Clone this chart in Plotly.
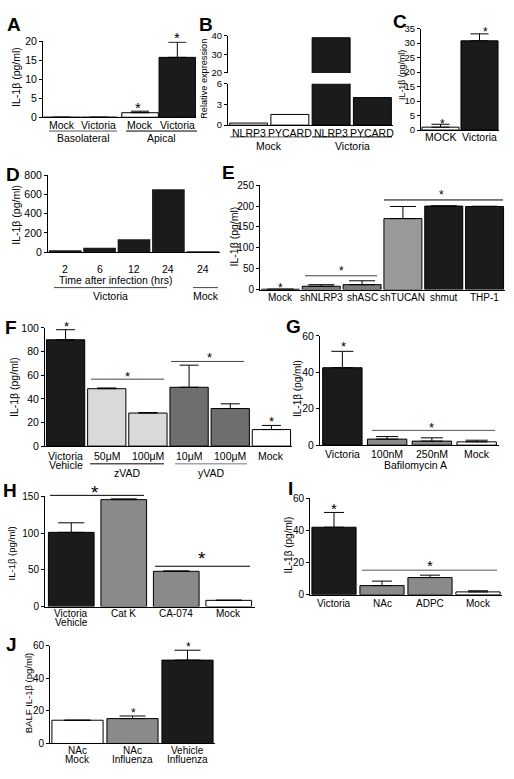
import plotly.graph_objects as go

W, H = 514, 779
FONT = "Liberation Sans, Arial, Helvetica, sans-serif"
BLACK = "#1b1b1b"
WHITE = "#ffffff"
GRAY = "#8a8a8a"
MGRAY = "#7c7c7c"
LGRAY = "#d9d9d9"
DGRAY = "#6e6e6e"
TFS = 10.5

# ---------------- data ----------------
A_labels = ["Mock", "Victoria", "Mock", "Victoria"]
A_pos = [0, 1, 2.1, 3.1]
A_values = [0, 0, 1.2, 15.8]
A_errors = [0, 0, 0.4, 4.0]
A_colors = [WHITE, BLACK, WHITE, BLACK]

B_labels = ["NLRP3", "PYCARD", "NLRP3", "PYCARD"]
B_values = [0.3, 1.55, 38.8, 4.0]
B_colors = [WHITE, WHITE, BLACK, BLACK]

C_labels = ["MOCK", "Victoria"]
C_values = [1.0, 30.8]
C_errors = [1.0, 2.4]
C_colors = [WHITE, BLACK]

D_labels = ["2", "6", "12", "24", "24"]
D_values = [20, 45, 135, 655, 3]
D_colors = [BLACK] * 5

E_labels = ["Mock", "shNLRP3", "shASC", "shTUCAN", "shmut", "THP-1"]
E_values = [0.8, 8, 11.7, 170, 200, 199]
E_errors = [0, 3.7, 9.3, 29, 0.3, 0.5]
E_colors = [WHITE, MGRAY, MGRAY, "#999999", BLACK, BLACK]

F_labels = ["Victoria<br>Vehicle", "50μM", "100μM", "10μM", "100μM", "Mock"]
F_values = [90, 48.6, 28, 49.8, 31.8, 14]
F_errors = [8.5, 0.6, 0.4, 18.7, 4.0, 3.5]
F_colors = [BLACK, LGRAY, LGRAY, DGRAY, DGRAY, WHITE]

G_labels = ["Victoria", "100nM", "250nM", "Mock"]
G_values = [42.5, 3.3, 2.2, 1.8]
G_errors = [9.0, 1.4, 1.8, 0.9]
G_colors = [BLACK, GRAY, GRAY, WHITE]

H_labels = ["Victoria<br>Vehicle", "Cat K", "CA-074", "Mock"]
H_values = [101, 145.5, 48, 8.5]
H_errors = [13, 1, 0.5, 0.3]
H_colors = [BLACK, GRAY, GRAY, WHITE]

I_labels = ["Victoria", "NAc", "ADPC", "Mock"]
I_values = [42, 5.7, 10.7, 1.8]
I_errors = [9.2, 2.8, 1.5, 0.7]
I_colors = [BLACK, GRAY, GRAY, WHITE]

J_labels = ["NAc<br>Mock", "NAc<br>Influenza", "Vehicle<br>Influenza"]
J_values = [14.3, 15.3, 51.3]
J_errors = [0, 1.6, 6.1]
J_colors = [WHITE, GRAY, BLACK]


def px(x):
    return x / W


def py(y):
    return 1 - y / H


fig = go.Figure()
layout = dict(
    width=W, height=H, margin=dict(l=0, r=0, t=0, b=0),
    paper_bgcolor="white", plot_bgcolor="white", showlegend=False,
    font=dict(family=FONT, size=TFS, color="black"),
)
annotations = []
shapes = []


def key(prefix, n):
    return prefix + ("" if n == 1 else str(n))


def text(t, x, y, size=TFS, bold=False, angle=0, color="black", xref="paper"):
    annotations.append(dict(
        text=("<b>%s</b>" % t) if bold else t,
        x=px(x) if xref == "paper" else x, y=py(y),
        xref=xref, yref="paper", showarrow=False, textangle=angle,
        xanchor="center", yanchor="middle",
        font=dict(family=FONT, size=size, color=color)))


def add_panel(n, xdom, ydom, xrange, yrange, yticks, pos, labels, values, colors,
              errors=None, width=0.92, cap=9, yn=None, show_x=True, outline=1,
              lab_off=8, lab_size=TFS, lab_gap=9.5, ytick_size=10):
    yn = yn or n
    xk, yk = key("xaxis", n), key("yaxis", yn)
    xa, ya = key("x", n), key("y", yn)
    err = None
    if errors is not None:
        err = dict(type="data", symmetric=False, array=errors,
                   arrayminus=[0] * len(errors), color="black",
                   thickness=1, width=cap)
    fig.add_trace(go.Bar(
        x=pos, y=values, width=width, xaxis=xa, yaxis=ya,
        marker=dict(color=colors, line=dict(color="black", width=outline)),
        error_y=err, hoverinfo="skip"))
    if show_x:
        layout[xk] = dict(
            domain=[px(xdom[0]), px(xdom[1])], range=xrange, anchor=ya,
            showline=True, linecolor="black", linewidth=1, ticks="",
            showgrid=False, zeroline=False, showticklabels=False,
            fixedrange=True)
        for p, lab in zip(pos, labels):
            for k, part in enumerate(lab.split("<br>")):
                text(part, p, ydom[1] + lab_off + k * lab_gap, size=lab_size, xref=xa)
    layout[yk] = dict(
        domain=[py(ydom[1]), py(ydom[0])], range=yrange, anchor=xa,
        showline=True, linecolor="black", linewidth=1, ticks="outside",
        ticklen=3, tickwidth=1, tickcolor="black", showgrid=False,
        zeroline=False, tickmode="array", tickvals=yticks,
        tickfont=dict(size=ytick_size), fixedrange=True)


def idx(lst):
    return list(range(len(lst)))


# A
add_panel(1, (43, 196), (36, 113), [-0.5, 3.6], [0, 20], [0, 5, 10, 15, 20],
          A_pos, A_labels, A_values, A_colors, A_errors, width=0.98, cap=9,
          lab_off=8, ytick_size=10.5)
# B (broken axis)
add_panel(2, (228, 393), (79, 121), [-0.5, 3.5], [0, 6], [0, 3, 6],
          idx(B_labels), B_labels, B_values, B_colors, None, width=0.92,
          lab_off=7.5, ytick_size=9.5)
add_panel(2, (228, 393), (30, 68), [-0.5, 3.5], [20, 40], [20, 30, 40],
          idx(B_labels), B_labels, B_values, B_colors, None, width=0.92,
          yn=11, show_x=False, ytick_size=9.5)
# C
add_panel(3, (421, 499), (23, 126), [-0.5, 1.5], [0, 35], [0, 5, 10, 15, 20, 25, 30, 35],
          idx(C_labels), C_labels, C_values, C_colors, C_errors, width=0.95, cap=9,
          lab_off=7.5, ytick_size=9.5)
# D
add_panel(4, (48, 220), (172, 250), [-0.5, 4.5], [0, 800], [0, 200, 400, 600, 800],
          idx(D_labels), D_labels, D_values, D_colors, None, width=0.95, outline=0,
          lab_off=17, ytick_size=10.5)
# E
add_panel(5, (260, 505), (182, 288), [-0.5, 5.5], [0, 250], [0, 50, 100, 150, 200, 250],
          idx(E_labels), E_labels, E_values, E_colors, E_errors, width=0.93, cap=13,
          lab_off=8, lab_size=10)
# F
add_panel(6, (45, 292), (327, 447), [-0.5, 5.5], [0, 100], [0, 20, 40, 60, 80, 100],
          idx(F_labels), F_labels, F_values, F_colors, F_errors, width=0.93, cap=9.5,
          lab_off=10, ytick_size=10.5)
# G
add_panel(7, (320, 499), (335, 446), [-0.5, 3.5], [0, 60], [0, 20, 40, 60],
          idx(G_labels), G_labels, G_values, G_colors, G_errors, width=0.88, cap=11,
          lab_off=9, ytick_size=10.5)
# H
add_panel(8, (45, 255), (498, 610), [-0.5, 3.5], [0, 150], [0, 50, 100, 150],
          idx(H_labels), H_labels, H_values, H_colors, H_errors, width=0.87, cap=13,
          lab_off=7, lab_size=10, lab_gap=9, ytick_size=10)
# I
add_panel(9, (310, 502), (500, 598), [-0.5, 3.5], [0, 60], [0, 20, 40, 60],
          idx(I_labels), I_labels, I_values, I_colors, I_errors, width=0.92, cap=10,
          lab_off=8.5, lab_size=10, ytick_size=10)
# J
add_panel(10, (50, 215), (650, 749), [-0.5, 2.5], [0, 60], [0, 20, 40, 60],
          idx(J_labels), J_labels, J_values, J_colors, J_errors, width=0.93, cap=13,
          lab_off=7, lab_size=10, lab_gap=9, ytick_size=10)


def hline(x0, x1, y, color="black", w=1):
    shapes.append(dict(type="line", xref="paper", yref="paper",
                       x0=px(x0), x1=px(x1), y0=py(y), y1=py(y),
                       line=dict(color=color, width=w)))


# panel letters
for L, x, y in [("A", 14, 19), ("B", 206, 19), ("C", 400, 16), ("D", 13, 171),
                ("E", 228, 169), ("F", 11, 327), ("G", 293, 326), ("H", 10, 492),
                ("I", 290, 490), ("J", 11, 648)]:
    text(L, x, y, size=19, bold=True)

# y titles
IL = "IL-1β (pg/ml)"
for t, x, y, s in [(IL, 16, 72, 10.5), ("Relative expression", 204, 74, 9.2),
                   (IL, 402, 70, 8.8), (IL, 16, 212, 10.5), (IL, 234, 234, 10.5),
                   (IL, 14, 387, 10.5), (IL, 297, 389, 10), (IL, 11, 556, 9.5),
                   (IL, 289, 548, 10), ("BALF IL-1β (pg/ml)", 28, 698, 9.5)]:
    text(t, x, y, size=s, angle=-90)


def star(x, y, size=14):
    text("*", x, y + size * 0.22, size=size)


# A
star(138, 100, 15); star(177, 29, 15)
hline(49, 117, 127, "#555"); text("Basolateral", 83, 134)
hline(126, 197, 127); text("Apical", 161, 134)
# B
hline(230, 308, 133, "#555"); text("Mock", 269, 142)
hline(312, 392, 133); text("Victoria", 352, 142)
# C
star(442, 117, 12); star(485, 24, 12)
# D
text("Time after infection (hrs)", 115, 278)
hline(54, 167, 286, "#444"); text("Victoria", 110, 295)
hline(193, 218, 286, "#444"); text("Mock", 206, 295)
# E
star(280, 284, 12)
hline(305, 377, 274, "#444"); star(341, 267, 12)
hline(384, 503, 197); star(441, 189, 12)
# F
star(66, 323, 13)
hline(91, 164, 379, "#444"); star(127, 373, 13)
hline(171, 244, 361, "#444"); star(209, 354, 13)
star(271, 419, 13)
hline(90, 164, 465); text("zVAD", 127, 474)
hline(175, 247, 465, "#777"); text("yVAD", 211, 474)
# G
star(343, 343, 13)
hline(372, 495, 431, "#555"); star(431, 425, 13)
text("Bafilomycin A", 415, 466)
# H
hline(50, 144, 497); star(95, 490, 19)
hline(155, 250, 569); star(202, 557, 19)
# I
star(334, 507, 15)
hline(362, 497, 573, "#555"); star(430, 565, 15)
# J
star(133, 715, 12); star(188, 648, 12)

layout["annotations"] = annotations
layout["shapes"] = shapes
fig.update_layout(**layout)
fig.write_html("out.html", config={"displayModeBar": False},
               post_script="document.body.style.margin='0';")
